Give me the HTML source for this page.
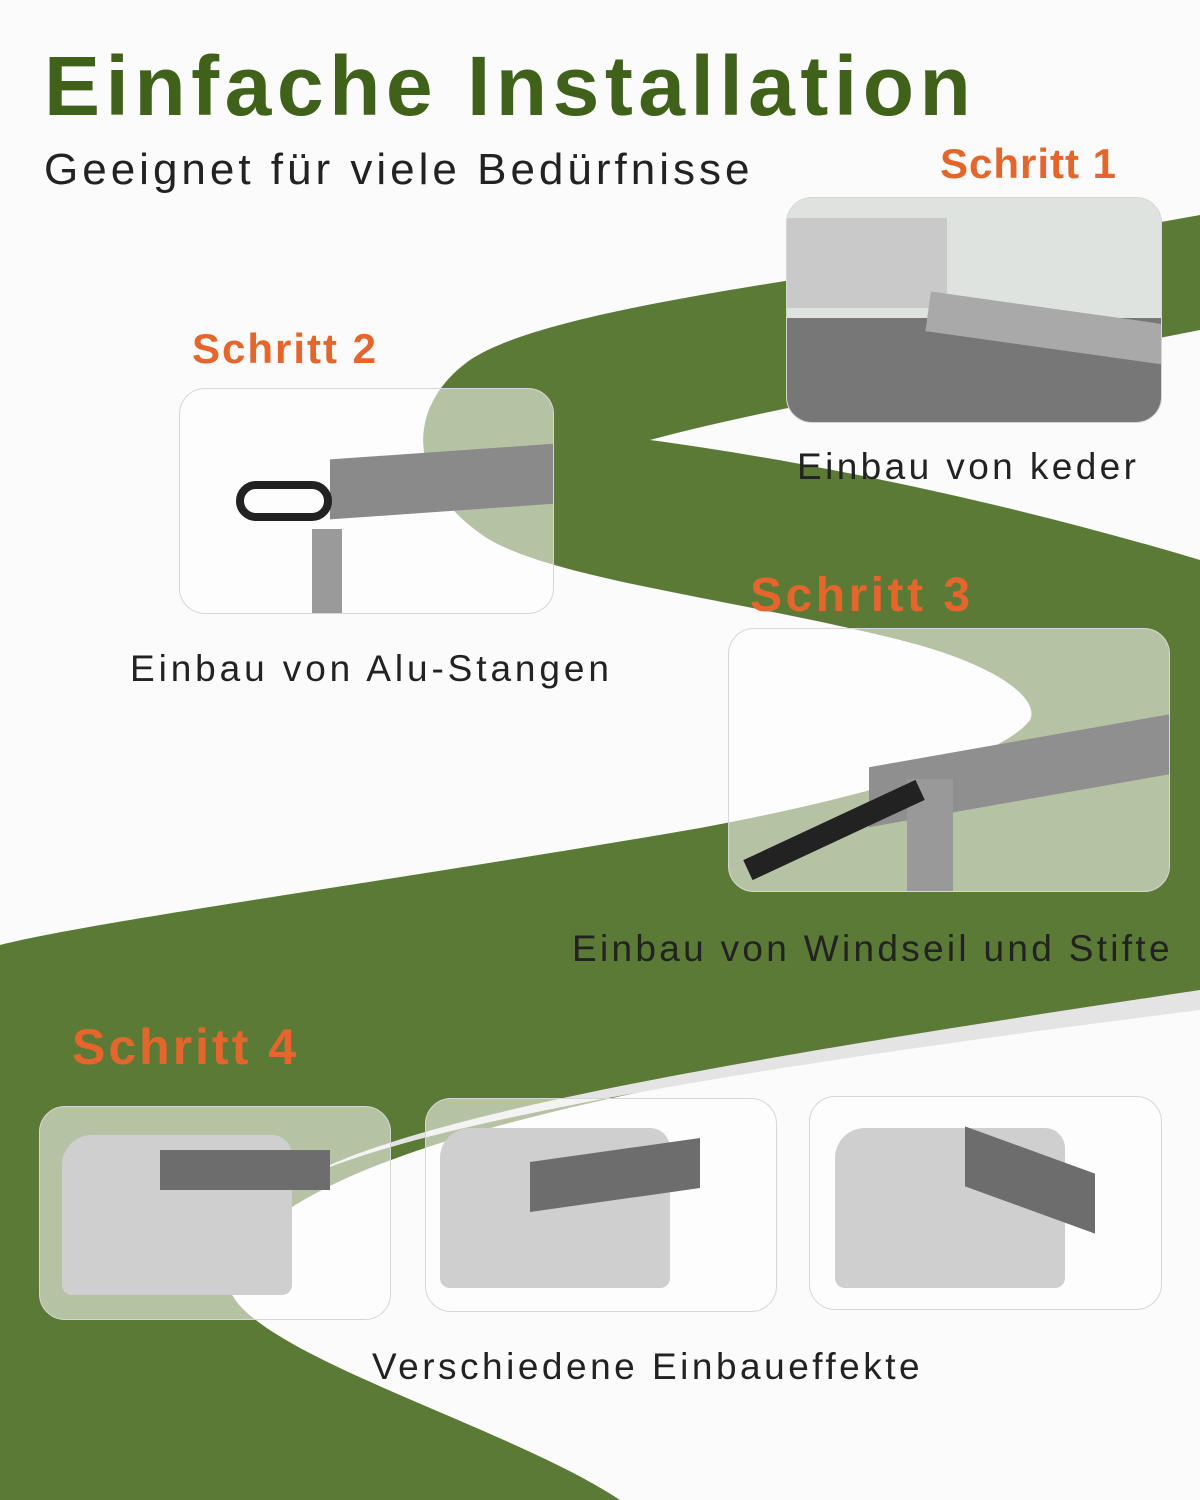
<!DOCTYPE html>
<html><head><meta charset="utf-8"><style>
body{margin:0;width:1200px;height:1500px;position:relative;overflow:hidden;background:#fbfbfb;font-family:"Liberation Sans",sans-serif}
svg.bg{position:absolute;left:0;top:0}
.t{position:absolute;white-space:nowrap}
.box{position:absolute;border-radius:26px;background:rgba(255,255,255,0.55);border:1.5px solid #d6d6d6;overflow:hidden}
.or{color:#e4662c;font-weight:bold;font-size:42px}
.lab{color:#222;font-size:37px;letter-spacing:3.5px}
</style></head><body>
<svg class="bg" width="1200" height="1500">
<path fill="#5b7a36" d="M1200,215 C900,270 560,300 470,360 C400,410 410,490 490,540 C560,580 740,600 900,640 C1000,665 1040,700 1030,720 C1000,760 850,800 700,828 C400,880 100,920 0,945 L0,1500 L620,1500 C500,1420 200,1340 230,1270 C290,1140 700,1070 1200,1000 L1200,560 C1000,500 800,460 650,440 C800,400 1000,370 1200,330 Z"/>
<path fill="#e4e4e4" d="M1200,990 C800,1050 420,1110 300,1180 C420,1120 800,1060 1200,1010 Z"/>
</svg>
<div class="t" style="left:44px;top:38px;font-size:84px;font-weight:bold;color:#3f6119;letter-spacing:5.5px">Einfache Installation</div>
<div class="t" style="left:44px;top:145px;font-size:44px;color:#222;letter-spacing:4px">Geeignet für viele Bedürfnisse</div>
<div class="t or" style="left:940px;top:140px;letter-spacing:1px">Schritt 1</div>
<div class="t or" style="left:192px;top:325px;letter-spacing:2px">Schritt 2</div>
<div class="t or" style="left:750px;top:568px;font-size:48px;letter-spacing:3.5px">Schritt 3</div>
<div class="t or" style="left:72px;top:1018px;font-size:50px;letter-spacing:3px">Schritt 4</div>

<div class="box" style="left:786px;top:197px;width:374px;height:224px;background:#dfe3e0">
<div style="position:absolute;left:0;top:20px;width:160px;height:90px;background:#c9c9c9"></div>
<div style="position:absolute;left:0;top:120px;width:374px;height:110px;background:#777"></div>
<div style="position:absolute;left:140px;top:110px;width:240px;height:40px;background:#a9a9a9;transform:rotate(8deg)"></div>
</div>
<div class="box" style="left:179px;top:388px;width:373px;height:224px">
<div style="position:absolute;left:150px;top:62px;width:240px;height:60px;background:#8a8a8a;transform:skewY(-4deg)"></div>
<div style="position:absolute;left:132px;top:140px;width:30px;height:90px;background:#9a9a9a"></div>
<div style="position:absolute;left:56px;top:92px;width:80px;height:24px;border:8px solid #222;border-radius:20px"></div>
</div>
<div class="box" style="left:728px;top:628px;width:440px;height:262px">
<div style="position:absolute;left:140px;top:110px;width:320px;height:60px;background:#8f8f8f;transform:skewY(-10deg)"></div>
<div style="position:absolute;left:178px;top:150px;width:46px;height:112px;background:#999"></div>
<div style="position:absolute;left:10px;top:190px;width:190px;height:22px;background:#222;transform:rotate(-25deg)"></div>
</div>
<div class="box" style="left:39px;top:1106px;width:350px;height:212px"></div>
<div class="box" style="left:425px;top:1098px;width:350px;height:212px"></div>
<div class="box" style="left:809px;top:1096px;width:351px;height:212px"></div>
<div style="position:absolute;left:62px;top:1135px;width:230px;height:160px;background:#cfcfcf;border-radius:30px 20px 10px 10px"></div>
<div style="position:absolute;left:160px;top:1150px;width:170px;height:40px;background:#6d6d6d"></div>
<div style="position:absolute;left:440px;top:1128px;width:230px;height:160px;background:#cfcfcf;border-radius:30px 20px 10px 10px"></div>
<div style="position:absolute;left:530px;top:1150px;width:170px;height:50px;background:#6d6d6d;transform:skewY(-8deg)"></div>
<div style="position:absolute;left:835px;top:1128px;width:230px;height:160px;background:#cfcfcf;border-radius:30px 20px 10px 10px"></div>
<div style="position:absolute;left:965px;top:1150px;width:130px;height:60px;background:#6d6d6d;transform:skewY(20deg)"></div>

<div class="t lab" style="left:797px;top:446px;letter-spacing:3.4px">Einbau von keder</div>
<div class="t lab" style="left:130px;top:648px;letter-spacing:3.9px">Einbau von Alu-Stangen</div>
<div class="t lab" style="left:572px;top:928px;letter-spacing:3.3px">Einbau von Windseil und Stifte</div>
<div class="t lab" style="left:372px;top:1346px;letter-spacing:3.5px">Verschiedene Einbaueffekte</div>
</body></html>
